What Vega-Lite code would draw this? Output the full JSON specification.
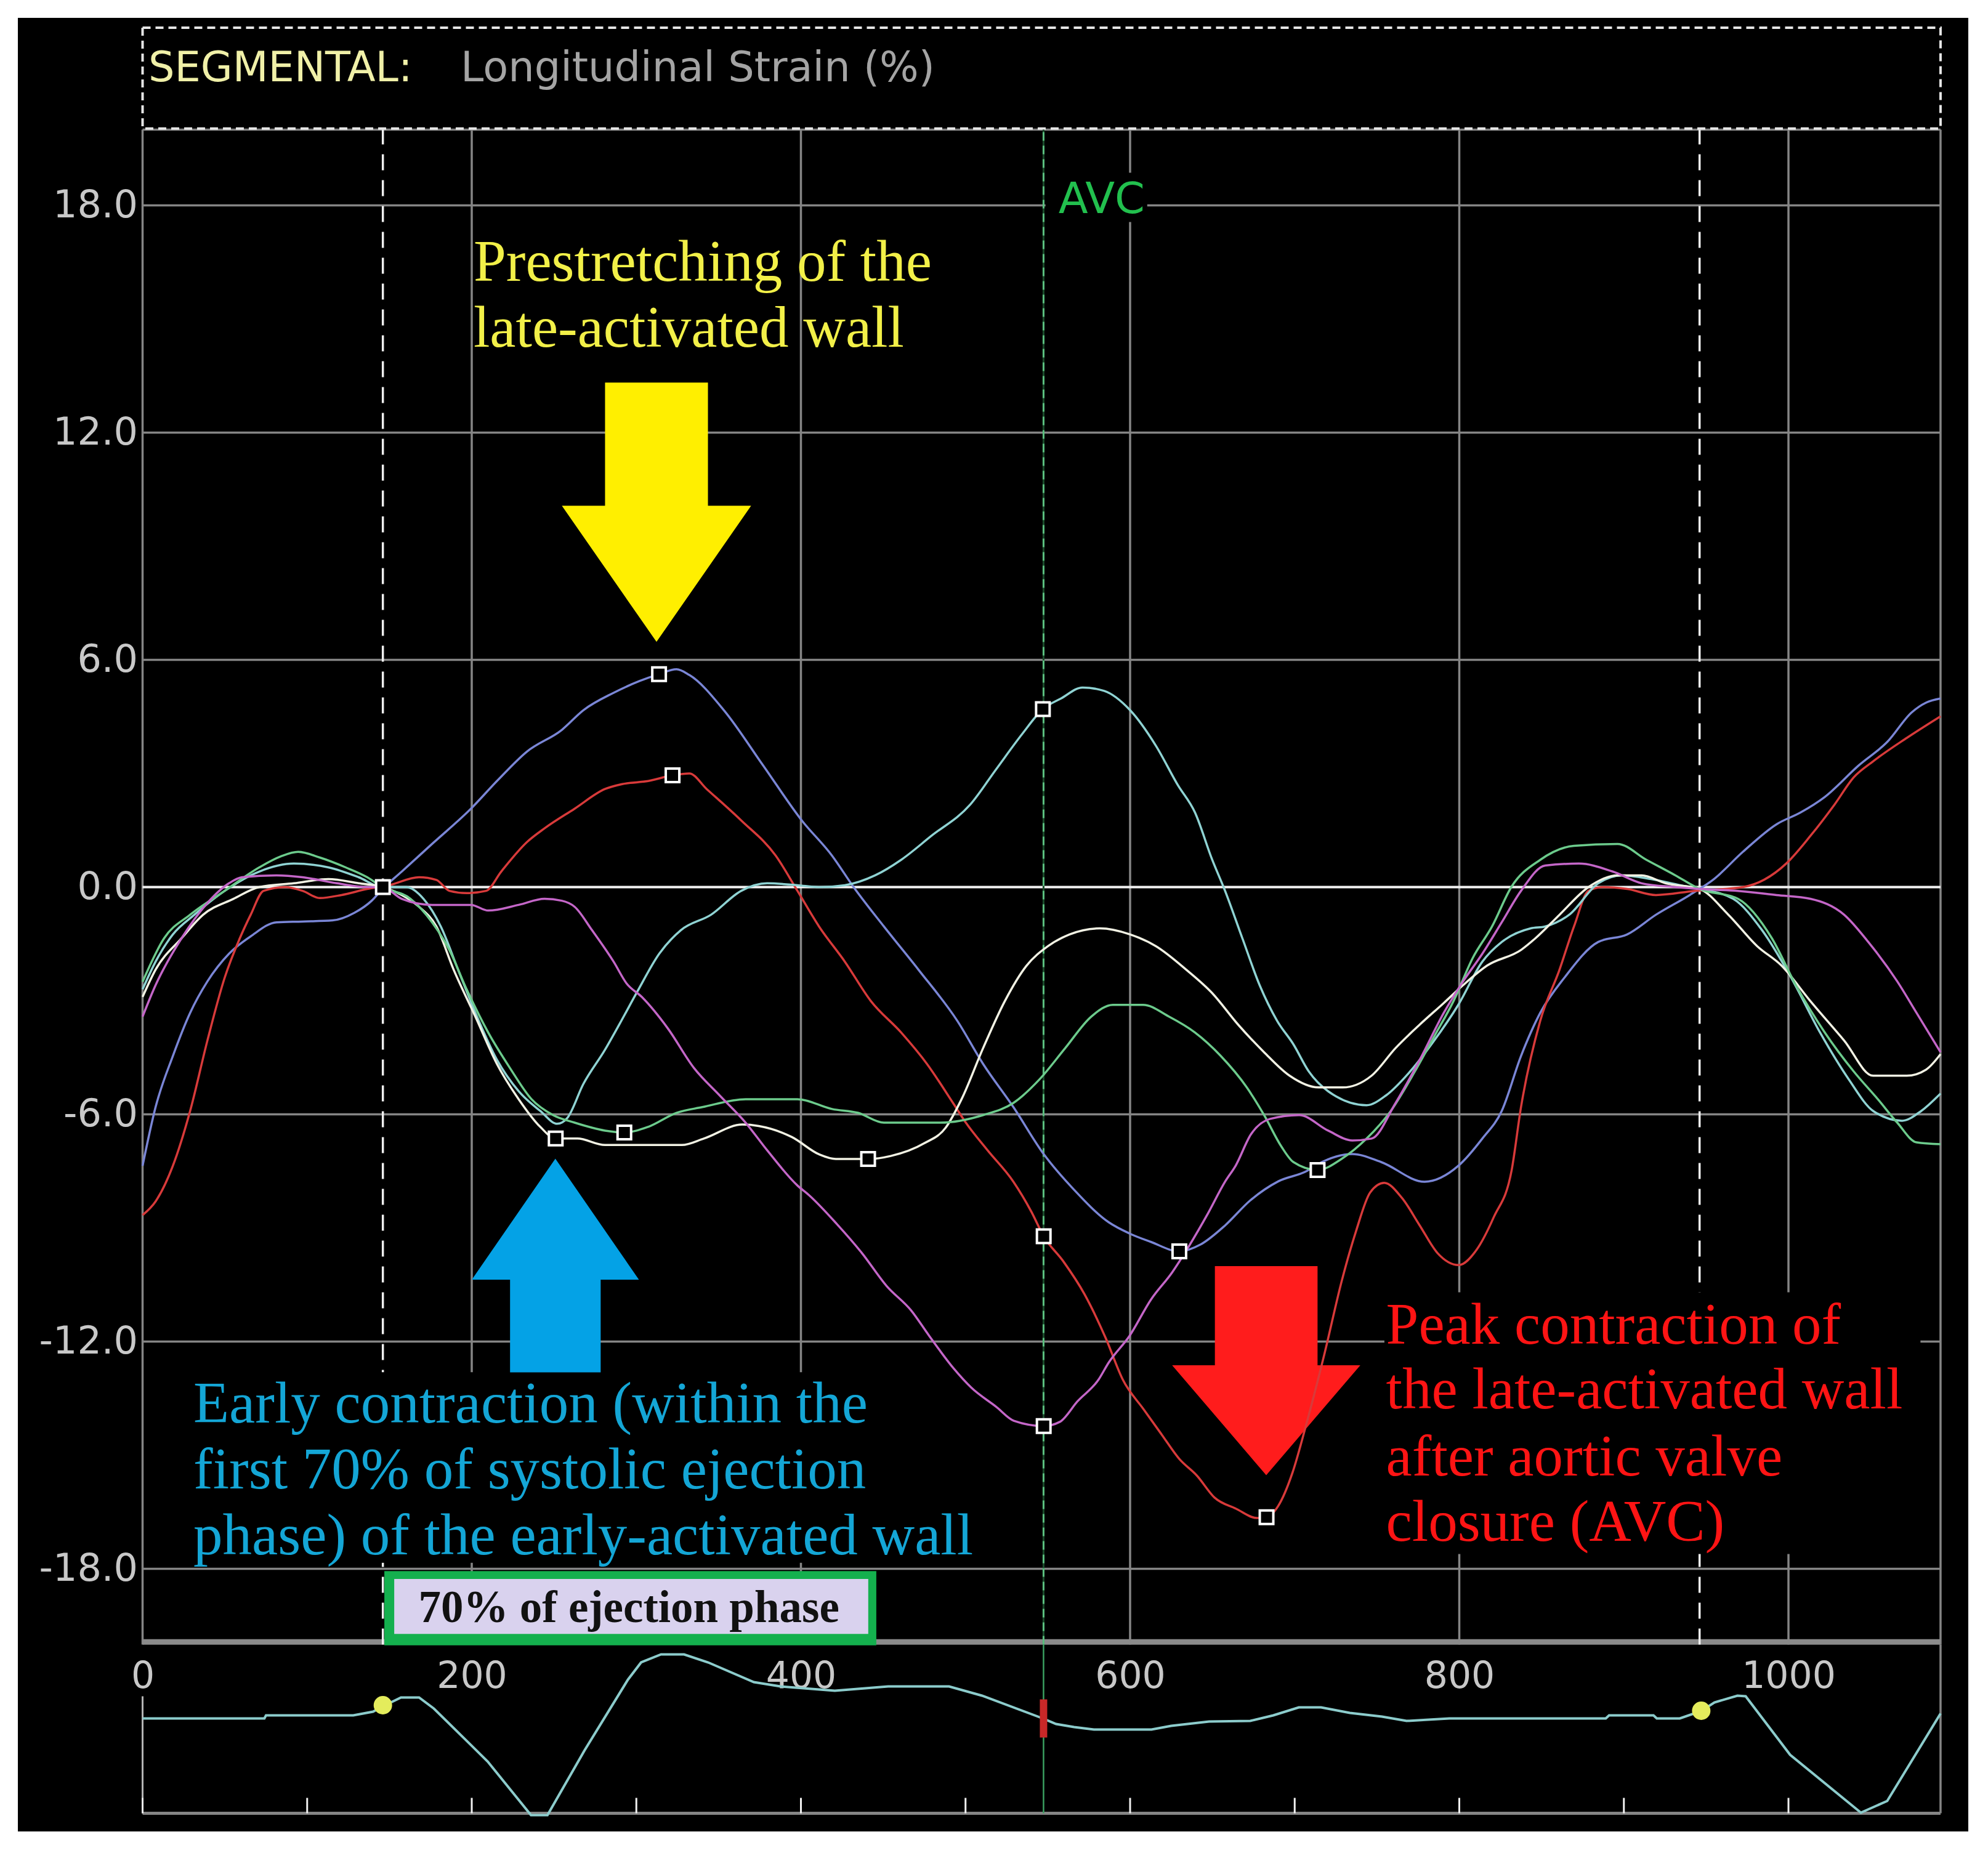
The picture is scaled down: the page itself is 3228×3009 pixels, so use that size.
{
"$schema": "https://vega.github.io/schema/vega-lite/v6.json",
"width": 3167, "height": 2945,
"autosize": {"type": "none"},
"padding": {"left": 29, "top": 29, "right": 32, "bottom": 35},
"background": "white",
"config": {"view": {"fill": "black", "stroke": null}, "axis": {"titleOpacity": 0}},
"datasets": {
"strain": [
{"seg":"Segment 1","t":0,"v":-7.36},{"seg":"Segment 1","t":7.9,"v":-5.81},{"seg":"Segment 1","t":18.4,"v":-4.46},{"seg":"Segment 1","t":28.9,"v":-3.32},{"seg":"Segment 1","t":39.4,"v":-2.49},{"seg":"Segment 1","t":52.5,"v":-1.76},{"seg":"Segment 1","t":65.7,"v":-1.3},{"seg":"Segment 1","t":81.4,"v":-0.93},{"seg":"Segment 1","t":97.2,"v":-0.91},{"seg":"Segment 1","t":115.5,"v":-0.88},{"seg":"Segment 1","t":128.7,"v":-0.68},{"seg":"Segment 1","t":139.2,"v":-0.36},{"seg":"Segment 1","t":145.7,"v":-0.05},{"seg":"Segment 1","t":157.5,"v":0.41},{"seg":"Segment 1","t":175.9,"v":1.14},{"seg":"Segment 1","t":199.5,"v":2.07},{"seg":"Segment 1","t":215.3,"v":2.8},{"seg":"Segment 1","t":233.6,"v":3.58},{"seg":"Segment 1","t":254.7,"v":4.15},{"seg":"Segment 1","t":267.8,"v":4.67},{"seg":"Segment 1","t":286.2,"v":5.13},{"seg":"Segment 1","t":301.9,"v":5.44},{"seg":"Segment 1","t":313.7,"v":5.62},{"seg":"Segment 1","t":324.4,"v":5.75},{"seg":"Segment 1","t":332.2,"v":5.6},{"seg":"Segment 1","t":353.2,"v":4.67},{"seg":"Segment 1","t":376.9,"v":3.22},{"seg":"Segment 1","t":400.5,"v":1.76},{"seg":"Segment 1","t":418.9,"v":0.83},{"seg":"Segment 1","t":432,"v":0.0},{"seg":"Segment 1","t":450.4,"v":-1.04},{"seg":"Segment 1","t":471.4,"v":-2.18},{"seg":"Segment 1","t":495,"v":-3.53},{"seg":"Segment 1","t":510.7,"v":-4.67},{"seg":"Segment 1","t":529.1,"v":-5.81},{"seg":"Segment 1","t":547.5,"v":-7.05},{"seg":"Segment 1","t":565.9,"v":-7.99},{"seg":"Segment 1","t":587,"v":-8.85},{"seg":"Segment 1","t":599.8,"v":-9.15},{"seg":"Segment 1","t":612.7,"v":-9.37},{"seg":"Segment 1","t":629.9,"v":-9.62},{"seg":"Segment 1","t":642.7,"v":-9.44},{"seg":"Segment 1","t":657.8,"v":-8.93},{"seg":"Segment 1","t":672.8,"v":-8.28},{"seg":"Segment 1","t":690,"v":-7.77},{"seg":"Segment 1","t":707.2,"v":-7.5},{"seg":"Segment 1","t":714.4,"v":-7.31},{"seg":"Segment 1","t":735,"v":-7.05},{"seg":"Segment 1","t":752.5,"v":-7.26},{"seg":"Segment 1","t":778.9,"v":-7.78},{"seg":"Segment 1","t":799.4,"v":-7.36},{"seg":"Segment 1","t":814,"v":-6.64},{"seg":"Segment 1","t":825.8,"v":-5.91},{"seg":"Segment 1","t":837.5,"v":-4.46},{"seg":"Segment 1","t":849.2,"v":-3.32},{"seg":"Segment 1","t":863.9,"v":-2.39},{"seg":"Segment 1","t":884.4,"v":-1.45},{"seg":"Segment 1","t":902,"v":-1.25},{"seg":"Segment 1","t":919.5,"v":-0.73},{"seg":"Segment 1","t":940,"v":-0.21},{"seg":"Segment 1","t":954.7,"v":0.21},{"seg":"Segment 1","t":972.3,"v":0.93},{"seg":"Segment 1","t":992.8,"v":1.66},{"seg":"Segment 1","t":1007.4,"v":1.97},{"seg":"Segment 1","t":1022.1,"v":2.38},{"seg":"Segment 1","t":1042.6,"v":3.21},{"seg":"Segment 1","t":1060.2,"v":3.84},{"seg":"Segment 1","t":1074.8,"v":4.61},{"seg":"Segment 1","t":1083.6,"v":4.87},{"seg":"Segment 1","t":1092.4,"v":4.98},
{"seg":"Segment 2","t":0,"v":-8.66},{"seg":"Segment 2","t":7.9,"v":-8.3},{"seg":"Segment 2","t":18.4,"v":-7.36},{"seg":"Segment 2","t":28.9,"v":-5.91},{"seg":"Segment 2","t":39.4,"v":-4.05},{"seg":"Segment 2","t":49.9,"v":-2.39},{"seg":"Segment 2","t":59.1,"v":-1.35},{"seg":"Segment 2","t":65.7,"v":-0.73},{"seg":"Segment 2","t":73.5,"v":-0.1},{"seg":"Segment 2","t":86.7,"v":0.0},{"seg":"Segment 2","t":97.2,"v":-0.1},{"seg":"Segment 2","t":107.7,"v":-0.29},{"seg":"Segment 2","t":120.8,"v":-0.21},{"seg":"Segment 2","t":136.5,"v":-0.05},{"seg":"Segment 2","t":149.7,"v":0.05},{"seg":"Segment 2","t":168,"v":0.26},{"seg":"Segment 2","t":178.5,"v":0.19},{"seg":"Segment 2","t":186.4,"v":-0.1},{"seg":"Segment 2","t":196.9,"v":-0.16},{"seg":"Segment 2","t":208.7,"v":-0.1},{"seg":"Segment 2","t":217.9,"v":0.41},{"seg":"Segment 2","t":233.6,"v":1.19},{"seg":"Segment 2","t":244.2,"v":1.55},{"seg":"Segment 2","t":262.5,"v":2.07},{"seg":"Segment 2","t":281,"v":2.59},{"seg":"Segment 2","t":291.4,"v":2.72},{"seg":"Segment 2","t":307.2,"v":2.8},{"seg":"Segment 2","t":322,"v":2.95},{"seg":"Segment 2","t":332.2,"v":3.0},{"seg":"Segment 2","t":342.7,"v":2.59},{"seg":"Segment 2","t":363.7,"v":1.76},{"seg":"Segment 2","t":384.7,"v":0.83},{"seg":"Segment 2","t":397.9,"v":-0.1},{"seg":"Segment 2","t":411,"v":-1.04},{"seg":"Segment 2","t":426.7,"v":-1.97},{"seg":"Segment 2","t":442.5,"v":-3.01},{"seg":"Segment 2","t":460.9,"v":-3.84},{"seg":"Segment 2","t":476.6,"v":-4.67},{"seg":"Segment 2","t":492.4,"v":-5.7},{"seg":"Segment 2","t":500.2,"v":-6.22},{"seg":"Segment 2","t":513.4,"v":-6.95},{"seg":"Segment 2","t":529.1,"v":-7.78},{"seg":"Segment 2","t":540,"v":-8.57},{"seg":"Segment 2","t":547.5,"v":-9.22},{"seg":"Segment 2","t":559.4,"v":-9.88},{"seg":"Segment 2","t":572.3,"v":-10.75},{"seg":"Segment 2","t":585.2,"v":-11.91},{"seg":"Segment 2","t":595.5,"v":-13.0},{"seg":"Segment 2","t":608.4,"v":-13.8},{"seg":"Segment 2","t":619.1,"v":-14.45},{"seg":"Segment 2","t":629.9,"v":-15.1},{"seg":"Segment 2","t":640.6,"v":-15.54},{"seg":"Segment 2","t":651.3,"v":-16.12},{"seg":"Segment 2","t":664.2,"v":-16.41},{"seg":"Segment 2","t":677.1,"v":-16.66},{"seg":"Segment 2","t":682.9,"v":-16.64},{"seg":"Segment 2","t":690,"v":-16.34},{"seg":"Segment 2","t":698.6,"v":-15.47},{"seg":"Segment 2","t":707.2,"v":-14.16},{"seg":"Segment 2","t":718,"v":-12.34},{"seg":"Segment 2","t":728.7,"v":-10.38},{"seg":"Segment 2","t":737.3,"v":-9.08},{"seg":"Segment 2","t":745.9,"v":-8.06},{"seg":"Segment 2","t":754.4,"v":-7.81},{"seg":"Segment 2","t":765.2,"v":-8.21},{"seg":"Segment 2","t":775.9,"v":-8.93},{"seg":"Segment 2","t":786.7,"v":-9.66},{"seg":"Segment 2","t":799.6,"v":-9.98},{"seg":"Segment 2","t":810.3,"v":-9.59},{"seg":"Segment 2","t":821,"v":-8.71},{"seg":"Segment 2","t":831.8,"v":-7.48},{"seg":"Segment 2","t":837.5,"v":-5.81},{"seg":"Segment 2","t":849.2,"v":-3.53},{"seg":"Segment 2","t":860.9,"v":-2.18},{"seg":"Segment 2","t":869.7,"v":-1.04},{"seg":"Segment 2","t":878.5,"v":-0.1},{"seg":"Segment 2","t":887.3,"v":0.0},{"seg":"Segment 2","t":902,"v":-0.05},{"seg":"Segment 2","t":919.5,"v":-0.21},{"seg":"Segment 2","t":943,"v":-0.1},{"seg":"Segment 2","t":972.3,"v":0.0},{"seg":"Segment 2","t":998.6,"v":0.62},{"seg":"Segment 2","t":1013.3,"v":1.35},{"seg":"Segment 2","t":1028,"v":2.18},{"seg":"Segment 2","t":1039.7,"v":2.9},{"seg":"Segment 2","t":1051.4,"v":3.32},{"seg":"Segment 2","t":1071.9,"v":3.94},{"seg":"Segment 2","t":1092.4,"v":4.51},
{"seg":"Segment 3","t":0,"v":-2.7},{"seg":"Segment 3","t":7.9,"v":-1.97},{"seg":"Segment 3","t":18.4,"v":-1.25},{"seg":"Segment 3","t":31.5,"v":-0.73},{"seg":"Segment 3","t":49.9,"v":-0.1},{"seg":"Segment 3","t":70.9,"v":0.41},{"seg":"Segment 3","t":91.9,"v":0.62},{"seg":"Segment 3","t":112.9,"v":0.52},{"seg":"Segment 3","t":131.3,"v":0.26},{"seg":"Segment 3","t":145.7,"v":0.0},{"seg":"Segment 3","t":160.2,"v":0.0},{"seg":"Segment 3","t":170.7,"v":-0.31},{"seg":"Segment 3","t":181.2,"v":-1.04},{"seg":"Segment 3","t":191.7,"v":-2.18},{"seg":"Segment 3","t":202.2,"v":-3.32},{"seg":"Segment 3","t":215.3,"v":-4.56},{"seg":"Segment 3","t":228.5,"v":-5.39},{"seg":"Segment 3","t":241.6,"v":-5.91},{"seg":"Segment 3","t":252,"v":-6.25},{"seg":"Segment 3","t":258,"v":-6.1},{"seg":"Segment 3","t":267.8,"v":-5.2},{"seg":"Segment 3","t":280.9,"v":-4.3},{"seg":"Segment 3","t":290,"v":-3.6},{"seg":"Segment 3","t":300.7,"v":-2.75},{"seg":"Segment 3","t":313.9,"v":-1.76},{"seg":"Segment 3","t":327,"v":-1.14},{"seg":"Segment 3","t":345.4,"v":-0.73},{"seg":"Segment 3","t":363.7,"v":-0.1},{"seg":"Segment 3","t":379.5,"v":0.1},{"seg":"Segment 3","t":397.9,"v":0.05},{"seg":"Segment 3","t":411,"v":0.0},{"seg":"Segment 3","t":426.7,"v":0.05},{"seg":"Segment 3","t":445.1,"v":0.31},{"seg":"Segment 3","t":460.9,"v":0.72},{"seg":"Segment 3","t":479.2,"v":1.35},{"seg":"Segment 3","t":502.9,"v":2.18},{"seg":"Segment 3","t":518.6,"v":3.11},{"seg":"Segment 3","t":534.4,"v":4.04},{"seg":"Segment 3","t":547,"v":4.7},{"seg":"Segment 3","t":558,"v":4.98},{"seg":"Segment 3","t":571.1,"v":5.27},{"seg":"Segment 3","t":584.2,"v":5.18},{"seg":"Segment 3","t":600,"v":4.67},{"seg":"Segment 3","t":615.7,"v":3.73},{"seg":"Segment 3","t":628.9,"v":2.7},{"seg":"Segment 3","t":639.4,"v":1.97},{"seg":"Segment 3","t":649.9,"v":0.72},{"seg":"Segment 3","t":657.7,"v":-0.1},{"seg":"Segment 3","t":668.2,"v":-1.35},{"seg":"Segment 3","t":678.7,"v":-2.59},{"seg":"Segment 3","t":689.3,"v":-3.53},{"seg":"Segment 3","t":699.2,"v":-4.15},{"seg":"Segment 3","t":708.6,"v":-4.87},{"seg":"Segment 3","t":720.3,"v":-5.39},{"seg":"Segment 3","t":743.7,"v":-5.76},{"seg":"Segment 3","t":755.5,"v":-5.5},{"seg":"Segment 3","t":770.1,"v":-4.87},{"seg":"Segment 3","t":784.8,"v":-4.05},{"seg":"Segment 3","t":799.4,"v":-3.11},{"seg":"Segment 3","t":814,"v":-1.97},{"seg":"Segment 3","t":825.8,"v":-1.45},{"seg":"Segment 3","t":843.4,"v":-1.09},{"seg":"Segment 3","t":852.2,"v":-1.04},{"seg":"Segment 3","t":866.8,"v":-0.73},{"seg":"Segment 3","t":884.4,"v":0.1},{"seg":"Segment 3","t":899,"v":0.31},{"seg":"Segment 3","t":916.6,"v":0.21},{"seg":"Segment 3","t":934.2,"v":0.05},{"seg":"Segment 3","t":946,"v":-0.05},{"seg":"Segment 3","t":966.4,"v":-0.31},{"seg":"Segment 3","t":984,"v":-1.14},{"seg":"Segment 3","t":1001.6,"v":-2.39},{"seg":"Segment 3","t":1019.2,"v":-3.84},{"seg":"Segment 3","t":1036.7,"v":-5.08},{"seg":"Segment 3","t":1051.4,"v":-5.91},{"seg":"Segment 3","t":1069,"v":-6.17},{"seg":"Segment 3","t":1080.7,"v":-5.91},{"seg":"Segment 3","t":1092.4,"v":-5.45},
{"seg":"Segment 4","t":0,"v":-2.9},{"seg":"Segment 4","t":7.9,"v":-2.18},{"seg":"Segment 4","t":23.7,"v":-1.35},{"seg":"Segment 4","t":36.8,"v":-0.73},{"seg":"Segment 4","t":55.2,"v":-0.31},{"seg":"Segment 4","t":70.9,"v":0.0},{"seg":"Segment 4","t":91.9,"v":0.1},{"seg":"Segment 4","t":112.9,"v":0.21},{"seg":"Segment 4","t":131.3,"v":0.1},{"seg":"Segment 4","t":145.7,"v":0.0},{"seg":"Segment 4","t":157.5,"v":-0.21},{"seg":"Segment 4","t":168,"v":-0.52},{"seg":"Segment 4","t":178.5,"v":-1.04},{"seg":"Segment 4","t":189,"v":-2.18},{"seg":"Segment 4","t":202.2,"v":-3.42},{"seg":"Segment 4","t":215.3,"v":-4.67},{"seg":"Segment 4","t":228.5,"v":-5.6},{"seg":"Segment 4","t":241.6,"v":-6.33},{"seg":"Segment 4","t":251,"v":-6.64},{"seg":"Segment 4","t":264.2,"v":-6.64},{"seg":"Segment 4","t":280.9,"v":-6.81},{"seg":"Segment 4","t":327.7,"v":-6.81},{"seg":"Segment 4","t":341,"v":-6.64},{"seg":"Segment 4","t":364.4,"v":-6.27},{"seg":"Segment 4","t":374.4,"v":-6.31},{"seg":"Segment 4","t":394.5,"v":-6.6},{"seg":"Segment 4","t":411.2,"v":-7.06},{"seg":"Segment 4","t":421.2,"v":-7.18},{"seg":"Segment 4","t":440.8,"v":-7.18},{"seg":"Segment 4","t":454.6,"v":-7.1},{"seg":"Segment 4","t":474.7,"v":-6.77},{"seg":"Segment 4","t":488,"v":-6.35},{"seg":"Segment 4","t":497.6,"v":-5.6},{"seg":"Segment 4","t":510.7,"v":-4.25},{"seg":"Segment 4","t":523.9,"v":-3.01},{"seg":"Segment 4","t":537,"v":-2.08},{"seg":"Segment 4","t":550.1,"v":-1.56},{"seg":"Segment 4","t":563.2,"v":-1.25},{"seg":"Segment 4","t":581.6,"v":-1.09},{"seg":"Segment 4","t":600,"v":-1.25},{"seg":"Segment 4","t":615.7,"v":-1.56},{"seg":"Segment 4","t":634.1,"v":-2.18},{"seg":"Segment 4","t":649.9,"v":-2.8},{"seg":"Segment 4","t":665.6,"v":-3.63},{"seg":"Segment 4","t":681.4,"v":-4.36},{"seg":"Segment 4","t":696.9,"v":-4.98},{"seg":"Segment 4","t":714.4,"v":-5.29},{"seg":"Segment 4","t":729.1,"v":-5.29},{"seg":"Segment 4","t":746.7,"v":-4.98},{"seg":"Segment 4","t":761.3,"v":-4.25},{"seg":"Segment 4","t":776,"v":-3.63},{"seg":"Segment 4","t":790.6,"v":-3.06},{"seg":"Segment 4","t":802.3,"v":-2.59},{"seg":"Segment 4","t":817,"v":-2.07},{"seg":"Segment 4","t":837.5,"v":-1.66},{"seg":"Segment 4","t":846.3,"v":-1.35},{"seg":"Segment 4","t":860.9,"v":-0.73},{"seg":"Segment 4","t":878.5,"v":0.0},{"seg":"Segment 4","t":896.1,"v":0.31},{"seg":"Segment 4","t":910.8,"v":0.31},{"seg":"Segment 4","t":925.4,"v":0.1},{"seg":"Segment 4","t":946,"v":-0.05},{"seg":"Segment 4","t":963.5,"v":-0.73},{"seg":"Segment 4","t":981,"v":-1.56},{"seg":"Segment 4","t":995.7,"v":-2.07},{"seg":"Segment 4","t":1013.3,"v":-3.01},{"seg":"Segment 4","t":1033.8,"v":-4.05},{"seg":"Segment 4","t":1051.4,"v":-4.98},{"seg":"Segment 4","t":1071.9,"v":-4.98},{"seg":"Segment 4","t":1083.6,"v":-4.82},{"seg":"Segment 4","t":1092.4,"v":-4.41},
{"seg":"Segment 5","t":0,"v":-2.5},{"seg":"Segment 5","t":13.1,"v":-1.35},{"seg":"Segment 5","t":28.9,"v":-0.73},{"seg":"Segment 5","t":49.9,"v":-0.1},{"seg":"Segment 5","t":70.9,"v":0.52},{"seg":"Segment 5","t":84,"v":0.81},{"seg":"Segment 5","t":94.5,"v":0.93},{"seg":"Segment 5","t":107.7,"v":0.78},{"seg":"Segment 5","t":123.4,"v":0.52},{"seg":"Segment 5","t":136.5,"v":0.26},{"seg":"Segment 5","t":145.7,"v":0.0},{"seg":"Segment 5","t":162.8,"v":-0.31},{"seg":"Segment 5","t":175.9,"v":-0.93},{"seg":"Segment 5","t":186.4,"v":-1.66},{"seg":"Segment 5","t":196.9,"v":-2.7},{"seg":"Segment 5","t":210,"v":-3.84},{"seg":"Segment 5","t":223.1,"v":-4.77},{"seg":"Segment 5","t":236.3,"v":-5.6},{"seg":"Segment 5","t":249.4,"v":-6.02},{"seg":"Segment 5","t":262.5,"v":-6.22},{"seg":"Segment 5","t":281,"v":-6.43},{"seg":"Segment 5","t":292.7,"v":-6.48},{"seg":"Segment 5","t":307.2,"v":-6.33},{"seg":"Segment 5","t":324.4,"v":-5.96},{"seg":"Segment 5","t":340.1,"v":-5.81},{"seg":"Segment 5","t":366.4,"v":-5.6},{"seg":"Segment 5","t":397.9,"v":-5.6},{"seg":"Segment 5","t":418.9,"v":-5.86},{"seg":"Segment 5","t":434.6,"v":-5.96},{"seg":"Segment 5","t":450.4,"v":-6.22},{"seg":"Segment 5","t":484.5,"v":-6.22},{"seg":"Segment 5","t":510.7,"v":-6.02},{"seg":"Segment 5","t":529.1,"v":-5.7},{"seg":"Segment 5","t":544.9,"v":-5.08},{"seg":"Segment 5","t":560.6,"v":-4.25},{"seg":"Segment 5","t":576.4,"v":-3.42},{"seg":"Segment 5","t":589.5,"v":-3.11},{"seg":"Segment 5","t":607.9,"v":-3.11},{"seg":"Segment 5","t":623.6,"v":-3.42},{"seg":"Segment 5","t":639.4,"v":-3.84},{"seg":"Segment 5","t":655.1,"v":-4.46},{"seg":"Segment 5","t":670.9,"v":-5.29},{"seg":"Segment 5","t":681.4,"v":-6.02},{"seg":"Segment 5","t":691.9,"v":-6.85},{"seg":"Segment 5","t":699.2,"v":-7.26},{"seg":"Segment 5","t":713.9,"v":-7.47},{"seg":"Segment 5","t":729.1,"v":-7.16},{"seg":"Segment 5","t":743.7,"v":-6.64},{"seg":"Segment 5","t":758.4,"v":-5.91},{"seg":"Segment 5","t":773,"v":-4.87},{"seg":"Segment 5","t":784.8,"v":-3.94},{"seg":"Segment 5","t":796.5,"v":-3.01},{"seg":"Segment 5","t":808.2,"v":-1.87},{"seg":"Segment 5","t":819.9,"v":-1.04},{"seg":"Segment 5","t":831.6,"v":0.0},{"seg":"Segment 5","t":849.2,"v":0.72},{"seg":"Segment 5","t":869.7,"v":1.09},{"seg":"Segment 5","t":896.1,"v":1.14},{"seg":"Segment 5","t":913.7,"v":0.72},{"seg":"Segment 5","t":931.3,"v":0.31},{"seg":"Segment 5","t":946,"v":-0.05},{"seg":"Segment 5","t":969.3,"v":-0.31},{"seg":"Segment 5","t":989.9,"v":-1.35},{"seg":"Segment 5","t":1004.5,"v":-2.59},{"seg":"Segment 5","t":1022.1,"v":-3.84},{"seg":"Segment 5","t":1039.7,"v":-4.87},{"seg":"Segment 5","t":1054.3,"v":-5.6},{"seg":"Segment 5","t":1066.1,"v":-6.22},{"seg":"Segment 5","t":1077.8,"v":-6.74},{"seg":"Segment 5","t":1092.4,"v":-6.79},
{"seg":"Segment 6","t":0,"v":-3.42},{"seg":"Segment 6","t":7.9,"v":-2.59},{"seg":"Segment 6","t":23.7,"v":-1.35},{"seg":"Segment 6","t":39.4,"v":-0.42},{"seg":"Segment 6","t":52.5,"v":0.1},{"seg":"Segment 6","t":60.4,"v":0.26},{"seg":"Segment 6","t":81.4,"v":0.31},{"seg":"Segment 6","t":97.2,"v":0.26},{"seg":"Segment 6","t":118.1,"v":0.1},{"seg":"Segment 6","t":136.5,"v":0.0},{"seg":"Segment 6","t":145.7,"v":0.0},{"seg":"Segment 6","t":157.5,"v":-0.31},{"seg":"Segment 6","t":175.9,"v":-0.47},{"seg":"Segment 6","t":199.5,"v":-0.47},{"seg":"Segment 6","t":210,"v":-0.62},{"seg":"Segment 6","t":228.5,"v":-0.47},{"seg":"Segment 6","t":244.2,"v":-0.31},{"seg":"Segment 6","t":254.7,"v":-0.36},{"seg":"Segment 6","t":262.5,"v":-0.52},{"seg":"Segment 6","t":273.1,"v":-1.14},{"seg":"Segment 6","t":286.2,"v":-1.97},{"seg":"Segment 6","t":294,"v":-2.54},{"seg":"Segment 6","t":303.3,"v":-2.9},{"seg":"Segment 6","t":319.1,"v":-3.73},{"seg":"Segment 6","t":334.9,"v":-4.77},{"seg":"Segment 6","t":350.6,"v":-5.5},{"seg":"Segment 6","t":366.4,"v":-6.22},{"seg":"Segment 6","t":379.5,"v":-6.95},{"seg":"Segment 6","t":397.9,"v":-7.88},{"seg":"Segment 6","t":404.8,"v":-8.13},{"seg":"Segment 6","t":421.9,"v":-8.9},{"seg":"Segment 6","t":437,"v":-9.66},{"seg":"Segment 6","t":452,"v":-10.53},{"seg":"Segment 6","t":467,"v":-11.18},{"seg":"Segment 6","t":477.8,"v":-11.84},{"seg":"Segment 6","t":492.8,"v":-12.71},{"seg":"Segment 6","t":503.6,"v":-13.22},{"seg":"Segment 6","t":518.6,"v":-13.72},{"seg":"Segment 6","t":529.3,"v":-14.09},{"seg":"Segment 6","t":547.6,"v":-14.23},{"seg":"Segment 6","t":557.3,"v":-14.12},{"seg":"Segment 6","t":568,"v":-13.58},{"seg":"Segment 6","t":580.9,"v":-13.0},{"seg":"Segment 6","t":586.9,"v":-12.56},{"seg":"Segment 6","t":599.8,"v":-11.84},{"seg":"Segment 6","t":612.7,"v":-10.89},{"seg":"Segment 6","t":625.6,"v":-10.17},{"seg":"Segment 6","t":636.3,"v":-9.44},{"seg":"Segment 6","t":647,"v":-8.64},{"seg":"Segment 6","t":657.8,"v":-7.77},{"seg":"Segment 6","t":664.2,"v":-7.35},{"seg":"Segment 6","t":673.4,"v":-6.53},{"seg":"Segment 6","t":685.1,"v":-6.12},{"seg":"Segment 6","t":702.7,"v":-6.02},{"seg":"Segment 6","t":720.3,"v":-6.43},{"seg":"Segment 6","t":735,"v":-6.69},{"seg":"Segment 6","t":746.7,"v":-6.64},{"seg":"Segment 6","t":761.3,"v":-5.7},{"seg":"Segment 6","t":776,"v":-4.56},{"seg":"Segment 6","t":790.6,"v":-3.32},{"seg":"Segment 6","t":802.3,"v":-2.49},{"seg":"Segment 6","t":814,"v":-1.76},{"seg":"Segment 6","t":825.8,"v":-0.93},{"seg":"Segment 6","t":837.5,"v":-0.1},{"seg":"Segment 6","t":852.2,"v":0.57},{"seg":"Segment 6","t":872.7,"v":0.62},{"seg":"Segment 6","t":893.2,"v":0.41},{"seg":"Segment 6","t":910.8,"v":0.1},{"seg":"Segment 6","t":931.3,"v":0.0},{"seg":"Segment 6","t":946,"v":-0.05},{"seg":"Segment 6","t":969.3,"v":-0.1},{"seg":"Segment 6","t":992.8,"v":-0.21},{"seg":"Segment 6","t":1013.3,"v":-0.31},{"seg":"Segment 6","t":1033.8,"v":-0.73},{"seg":"Segment 6","t":1048.5,"v":-1.45},{"seg":"Segment 6","t":1066.1,"v":-2.49},{"seg":"Segment 6","t":1077.8,"v":-3.32},{"seg":"Segment 6","t":1092.4,"v":-4.36}
],
"ecg": [
{"t":0,"e":0},{"t":74,"e":0},{"t":75,"e":0.05},{"t":128,"e":0.05},{"t":140,"e":0.11},{"t":147,"e":0.21},{"t":157,"e":0.34},{"t":168,"e":0.34},{"t":177,"e":0.16},{"t":209.7,"e":-0.7},{"t":236,"e":-1.57},{"t":246,"e":-1.57},{"t":268.5,"e":-0.52},{"t":294.9,"e":0.63},{"t":302.9,"e":0.91},{"t":315,"e":1.04},{"t":329,"e":1.04},{"t":343.6,"e":0.91},{"t":371.4,"e":0.59},{"t":387.6,"e":0.52},{"t":420.6,"e":0.45},{"t":453,"e":0.52},{"t":490,"e":0.52},{"t":510,"e":0.37},{"t":547,"e":0.0},{"t":555,"e":-0.09},{"t":566,"e":-0.14},{"t":578,"e":-0.18},{"t":613,"e":-0.18},{"t":625,"e":-0.12},{"t":648,"e":-0.05},{"t":673,"e":-0.04},{"t":687,"e":0.05},{"t":702.5,"e":0.18},{"t":716,"e":0.18},{"t":733.5,"e":0.09},{"t":753,"e":0.03},{"t":768,"e":-0.04},{"t":794,"e":0.0},{"t":889,"e":0.0},{"t":891,"e":0.05},{"t":918,"e":0.05},{"t":920,"e":0.0},{"t":934,"e":0.0},{"t":947,"e":0.12},{"t":955,"e":0.26},{"t":969,"e":0.37},{"t":974,"e":0.36},{"t":1001,"e":-0.59},{"t":1044,"e":-1.53},{"t":1060,"e":-1.34},{"t":1092.4,"e":0.08}
],
"markers": [
{"t":146,"v":0},{"t":313.8,"v":5.62},{"t":322,"v":2.95},{"t":547,"v":4.7},{"t":251,"v":-6.64},{"t":292.7,"v":-6.48},{"t":440.8,"v":-7.18},{"t":547.5,"v":-9.22},{"t":547.5,"v":-14.23},{"t":629.9,"v":-9.62},{"t":713.9,"v":-7.47},{"t":682.9,"v":-16.64}
],
"hgrid": [{"v":-18},{"v":-12},{"v":-6},{"v":6},{"v":12},{"v":18},{"v":20}],
"vgrid": [{"t":0},{"t":200},{"t":400},{"t":600},{"t":800},{"t":1000},{"t":1092.4}],
"events": [{"t":146},{"t":946}],
"ticks": [{"t":0},{"t":100},{"t":200},{"t":300},{"t":400},{"t":500},{"t":600},{"t":700},{"t":800},{"t":900},{"t":1000}],
"ecgMarks": [{"t":146,"e":0.215},{"t":947,"e":0.125}],
"boxes": [
{"name":"cyan","t1":25.6,"t2":456,"v1":-12.81,"v2":-17.84},
{"name":"red","t1":754.5,"t2":1080.2,"v1":-10.7,"v2":-17.61},
{"name":"avc","t1":548.6,"t2":610.4,"v1":18.86,"v2":17.56}
],
"phaseBox": [{"t1":146.9,"t2":445.8,"v1":-18.06,"v2":-20.02}],
"phaseInner": [{"t1":152.9,"t2":440.9,"v1":-18.27,"v2":-19.72}],
"arrows": [{"name":"prestretch","t":312.25,"v":9.897},{"name":"early","t":250.8,"v":-9.993},{"name":"peak","t":682.7,"v":-12.768}],
"notes": [
{"g":"header1","text":"SEGMENTAL:","t":3.55,"v":21.28},
{"g":"header2","text":"Longitudinal Strain (%)","t":193.3,"v":21.28},
{"g":"yellow","text":"Prestretching of the","t":201.1,"v":16.015},
{"g":"yellow","text":"late-activated wall","t":201.1,"v":14.272},
{"g":"cyan","text":"Early contraction (within the","t":30.9,"v":-14.138},
{"g":"cyan","text":"first 70% of systolic ejection","t":30.9,"v":-15.878},
{"g":"cyan","text":"phase) of the early-activated wall","t":30.9,"v":-17.626},
{"g":"red","text":"Peak contraction of","t":755.5,"v":-12.057},
{"g":"red","text":"the late-activated wall","t":755.5,"v":-13.772},
{"g":"red","text":"after aortic valve","t":755.5,"v":-15.543},
{"g":"red","text":"closure (AVC)","t":755.5,"v":-17.257},
{"g":"box","text":"70% of ejection phase","t":295.5,"v":-19.4},
{"g":"avc","text":"AVC","t":556.5,"v":17.8}
]
},
"resolve": {"scale": {"y": "independent"}},
"layer": [
{
"layer": [
{"data": {"name": "hgrid"}, "mark": {"type": "rule", "color": "#858585", "strokeWidth": 3.5},
 "encoding": {
  "y": {"field": "v", "type": "quantitative", "title": null, "scale": {"domain": [-24.935, 22.951], "nice": false, "zero": false},
   "axis": {"values": [-18, -12, -6, 0, 6, 12, 18], "labelExpr": "(datum.value < 0 ? '-' : '') + format(abs(datum.value), '.1f')", "offset": -202.5, "domain": false, "ticks": false, "tickSize": 0, "grid": false, "labelFont": "DejaVu Sans", "labelFontSize": 62, "labelColor": "#c8c8c8", "labelPadding": 8, "labelBaseline": "middle", "labelFlush": false, "labelOverlap": false, "title": null}},
  "x": {"datum": 0, "type": "quantitative", "scale": {"domain": [-75.77, 1109.26], "nice": false, "zero": false}},
  "x2": {"datum": 1092.4}}},
{"data": {"name": "vgrid"}, "mark": {"type": "rule", "color": "#858585", "strokeWidth": 3.5},
 "encoding": {
  "x": {"field": "t", "type": "quantitative", "title": null, "scale": {"domain": [-75.77, 1109.26], "nice": false, "zero": false},
   "axis": {"values": [0, 200, 400, 600, 800, 1000], "format": "d", "orient": "bottom", "offset": -281, "domain": false, "ticks": false, "tickSize": 0, "grid": false, "labelFont": "DejaVu Sans", "labelFontSize": 60, "labelColor": "#c8c8c8", "labelPadding": 0, "labelFlush": false, "labelOverlap": false, "title": null}},
  "y": {"datum": -20, "type": "quantitative", "scale": {"domain": [-24.935, 22.951], "nice": false, "zero": false}},
  "y2": {"datum": 20}}},
{"data": {"values": [{}]}, "mark": {"type": "rect", "filled": false, "color": "#e6e6e6", "strokeWidth": 4, "strokeDash": [13, 8]},
 "encoding": {
  "x": {"datum": 0, "type": "quantitative", "scale": {"domain": [-75.77, 1109.26], "nice": false, "zero": false}},
  "x2": {"datum": 1092.4},
  "y": {"datum": 22.69, "type": "quantitative", "scale": {"domain": [-24.935, 22.951], "nice": false, "zero": false}},
  "y2": {"datum": 20.03}}},
{"data": {"values": [{}]}, "mark": {"type": "rule", "color": "#f2f2f2", "strokeWidth": 4},
 "encoding": {
  "x": {"datum": 0, "type": "quantitative", "scale": {"domain": [-75.77, 1109.26], "nice": false, "zero": false}},
  "x2": {"datum": 1092.4},
  "y": {"datum": 0, "type": "quantitative", "scale": {"domain": [-24.935, 22.951], "nice": false, "zero": false}}}},
{"data": {"values": [{}]}, "mark": {"type": "rule", "color": "#8a8a8a", "strokeWidth": 9},
 "encoding": {
  "x": {"datum": 0, "type": "quantitative", "scale": {"domain": [-75.77, 1109.26], "nice": false, "zero": false}},
  "x2": {"datum": 1092.4},
  "y": {"datum": -19.93, "type": "quantitative", "scale": {"domain": [-24.935, 22.951], "nice": false, "zero": false}}}},
{"data": {"name": "events"}, "mark": {"type": "rule", "color": "#f0f0f0", "strokeWidth": 3.5, "strokeDash": [26, 16]},
 "encoding": {
  "x": {"field": "t", "type": "quantitative", "title": null, "scale": {"domain": [-75.77, 1109.26], "nice": false, "zero": false}},
  "y": {"datum": -20, "type": "quantitative", "scale": {"domain": [-24.935, 22.951], "nice": false, "zero": false}},
  "y2": {"datum": 20}}},
{"data": {"values": [{}]}, "mark": {"type": "rule", "color": "#1b4d2c", "strokeWidth": 3},
 "encoding": {
  "x": {"datum": 547.4, "type": "quantitative", "scale": {"domain": [-75.77, 1109.26], "nice": false, "zero": false}},
  "y": {"datum": -20, "type": "quantitative", "scale": {"domain": [-24.935, 22.951], "nice": false, "zero": false}},
  "y2": {"datum": 20}}},
{"data": {"values": [{}]}, "mark": {"type": "rule", "color": "#5cc080", "strokeWidth": 3, "strokeDash": [14, 8]},
 "encoding": {
  "x": {"datum": 547.4, "type": "quantitative", "scale": {"domain": [-75.77, 1109.26], "nice": false, "zero": false}},
  "y": {"datum": -20, "type": "quantitative", "scale": {"domain": [-24.935, 22.951], "nice": false, "zero": false}},
  "y2": {"datum": 20}}},
{"data": {"name": "boxes"}, "mark": {"type": "rect", "color": "black"},
 "encoding": {
  "x": {"field": "t1", "type": "quantitative", "title": null, "scale": {"domain": [-75.77, 1109.26], "nice": false, "zero": false}},
  "x2": {"field": "t2"},
  "y": {"field": "v1", "type": "quantitative", "title": null, "scale": {"domain": [-24.935, 22.951], "nice": false, "zero": false}},
  "y2": {"field": "v2"}}},
{"data": {"name": "phaseBox"}, "mark": {"type": "rect", "color": "#14b04e"},
 "encoding": {
  "x": {"field": "t1", "type": "quantitative", "title": null, "scale": {"domain": [-75.77, 1109.26], "nice": false, "zero": false}},
  "x2": {"field": "t2"},
  "y": {"field": "v1", "type": "quantitative", "title": null, "scale": {"domain": [-24.935, 22.951], "nice": false, "zero": false}},
  "y2": {"field": "v2"}}},
{"data": {"name": "phaseInner"}, "mark": {"type": "rect", "color": "#d9d2ee"},
 "encoding": {
  "x": {"field": "t1", "type": "quantitative", "title": null, "scale": {"domain": [-75.77, 1109.26], "nice": false, "zero": false}},
  "x2": {"field": "t2"},
  "y": {"field": "v1", "type": "quantitative", "title": null, "scale": {"domain": [-24.935, 22.951], "nice": false, "zero": false}},
  "y2": {"field": "v2"}}},
{"data": {"name": "arrows"}, "transform": [{"filter": "datum.name === 'prestretch'"}],
 "mark": {"type": "point", "filled": true, "opacity": 1, "color": "#ffef00", "strokeWidth": 0, "size": 177157, "shape": "M-0.397,-1L0.397,-1L0.397,-0.05L0.73,-0.05L0,1L-0.73,-0.05L-0.397,-0.05Z"},
 "encoding": {
  "x": {"field": "t", "type": "quantitative", "title": null, "scale": {"domain": [-75.77, 1109.26], "nice": false, "zero": false}},
  "y": {"field": "v", "type": "quantitative", "title": null, "scale": {"domain": [-24.935, 22.951], "nice": false, "zero": false}}}},
{"data": {"name": "arrows"}, "transform": [{"filter": "datum.name === 'early'"}],
 "mark": {"type": "point", "filled": true, "opacity": 1, "color": "#04a2e6", "strokeWidth": 0, "size": 120409, "shape": "M0,-1L0.782,0.132L0.424,0.132L0.424,1L-0.424,1L-0.424,0.132L-0.782,0.132Z"},
 "encoding": {
  "x": {"field": "t", "type": "quantitative", "title": null, "scale": {"domain": [-75.77, 1109.26], "nice": false, "zero": false}},
  "y": {"field": "v", "type": "quantitative", "title": null, "scale": {"domain": [-24.935, 22.951], "nice": false, "zero": false}}}},
{"data": {"name": "arrows"}, "transform": [{"filter": "datum.name === 'peak'"}],
 "mark": {"type": "point", "filled": true, "opacity": 1, "color": "#ff1c1c", "strokeWidth": 0, "size": 115260, "shape": "M-0.491,-1L0.491,-1L0.491,-0.052L0.9,-0.052L0,1L-0.9,-0.052L-0.491,-0.052Z"},
 "encoding": {
  "x": {"field": "t", "type": "quantitative", "title": null, "scale": {"domain": [-75.77, 1109.26], "nice": false, "zero": false}},
  "y": {"field": "v", "type": "quantitative", "title": null, "scale": {"domain": [-24.935, 22.951], "nice": false, "zero": false}}}},
{"data": {"name": "strain"}, "mark": {"type": "line", "strokeWidth": 3.5, "interpolate": "monotone"},
 "encoding": {
  "x": {"field": "t", "type": "quantitative", "title": null, "scale": {"domain": [-75.77, 1109.26], "nice": false, "zero": false}},
  "y": {"field": "v", "type": "quantitative", "title": null, "scale": {"domain": [-24.935, 22.951], "nice": false, "zero": false}},
  "color": {"field": "seg", "type": "nominal", "legend": null, "scale": {"domain": ["Segment 1", "Segment 2", "Segment 3", "Segment 4", "Segment 5", "Segment 6"], "range": ["#7a86d6", "#d83a3a", "#8fd3d3", "#f2f2e4", "#6ccb8c", "#c466c8"]}}}},
{"data": {"name": "markers"}, "mark": {"type": "point", "shape": "square", "filled": true, "opacity": 1, "fill": "black", "stroke": "white", "strokeWidth": 4, "size": 484},
 "encoding": {
  "x": {"field": "t", "type": "quantitative", "title": null, "scale": {"domain": [-75.77, 1109.26], "nice": false, "zero": false}},
  "y": {"field": "v", "type": "quantitative", "title": null, "scale": {"domain": [-24.935, 22.951], "nice": false, "zero": false}}}},
{"data": {"name": "notes"}, "transform": [{"filter": "datum.g === 'header1'"}],
 "mark": {"type": "text", "align": "left", "baseline": "alphabetic", "font": "DejaVu Sans", "fontSize": 67, "color": "#f0f0a8"},
 "encoding": {
  "x": {"field": "t", "type": "quantitative", "title": null, "scale": {"domain": [-75.77, 1109.26], "nice": false, "zero": false}},
  "y": {"field": "v", "type": "quantitative", "title": null, "scale": {"domain": [-24.935, 22.951], "nice": false, "zero": false}},
  "text": {"field": "text"}}},
{"data": {"name": "notes"}, "transform": [{"filter": "datum.g === 'header2'"}],
 "mark": {"type": "text", "align": "left", "baseline": "alphabetic", "font": "DejaVu Sans", "fontSize": 67, "color": "#a4a4a4"},
 "encoding": {
  "x": {"field": "t", "type": "quantitative", "title": null, "scale": {"domain": [-75.77, 1109.26], "nice": false, "zero": false}},
  "y": {"field": "v", "type": "quantitative", "title": null, "scale": {"domain": [-24.935, 22.951], "nice": false, "zero": false}},
  "text": {"field": "text"}}},
{"data": {"name": "notes"}, "transform": [{"filter": "datum.g === 'yellow'"}],
 "mark": {"type": "text", "align": "left", "baseline": "alphabetic", "font": "Liberation Serif", "fontSize": 95, "color": "#f2f048"},
 "encoding": {
  "x": {"field": "t", "type": "quantitative", "title": null, "scale": {"domain": [-75.77, 1109.26], "nice": false, "zero": false}},
  "y": {"field": "v", "type": "quantitative", "title": null, "scale": {"domain": [-24.935, 22.951], "nice": false, "zero": false}},
  "text": {"field": "text"}}},
{"data": {"name": "notes"}, "transform": [{"filter": "datum.g === 'cyan'"}],
 "mark": {"type": "text", "align": "left", "baseline": "alphabetic", "font": "Liberation Serif", "fontSize": 95, "color": "#14a6d6"},
 "encoding": {
  "x": {"field": "t", "type": "quantitative", "title": null, "scale": {"domain": [-75.77, 1109.26], "nice": false, "zero": false}},
  "y": {"field": "v", "type": "quantitative", "title": null, "scale": {"domain": [-24.935, 22.951], "nice": false, "zero": false}},
  "text": {"field": "text"}}},
{"data": {"name": "notes"}, "transform": [{"filter": "datum.g === 'red'"}],
 "mark": {"type": "text", "align": "left", "baseline": "alphabetic", "font": "Liberation Serif", "fontSize": 95, "color": "#ff1414"},
 "encoding": {
  "x": {"field": "t", "type": "quantitative", "title": null, "scale": {"domain": [-75.77, 1109.26], "nice": false, "zero": false}},
  "y": {"field": "v", "type": "quantitative", "title": null, "scale": {"domain": [-24.935, 22.951], "nice": false, "zero": false}},
  "text": {"field": "text"}}},
{"data": {"name": "notes"}, "transform": [{"filter": "datum.g === 'box'"}],
 "mark": {"type": "text", "align": "center", "baseline": "alphabetic", "font": "Liberation Serif", "fontWeight": "bold", "fontSize": 73, "color": "#111111"},
 "encoding": {
  "x": {"field": "t", "type": "quantitative", "title": null, "scale": {"domain": [-75.77, 1109.26], "nice": false, "zero": false}},
  "y": {"field": "v", "type": "quantitative", "title": null, "scale": {"domain": [-24.935, 22.951], "nice": false, "zero": false}},
  "text": {"field": "text"}}},
{"data": {"name": "notes"}, "transform": [{"filter": "datum.g === 'avc'"}],
 "mark": {"type": "text", "align": "left", "baseline": "alphabetic", "font": "DejaVu Sans", "fontSize": 70, "color": "#22c04e"},
 "encoding": {
  "x": {"field": "t", "type": "quantitative", "title": null, "scale": {"domain": [-75.77, 1109.26], "nice": false, "zero": false}},
  "y": {"field": "v", "type": "quantitative", "title": null, "scale": {"domain": [-24.935, 22.951], "nice": false, "zero": false}},
  "text": {"field": "text"}}}
]
},
{
"layer": [
{"data": {"values": [{}]}, "mark": {"type": "rule", "color": "#858585", "strokeWidth": 5},
 "encoding": {
  "x": {"datum": 0, "type": "quantitative", "scale": {"domain": [-75.77, 1109.26], "nice": false, "zero": false}},
  "x2": {"datum": 1092.4},
  "y": {"datum": -1.54, "type": "quantitative", "axis": null, "scale": {"domain": [-1.835, 27.615], "nice": false, "zero": false}}}},
{"data": {"values": [{}]}, "mark": {"type": "rule", "color": "#b4b4b4", "strokeWidth": 3},
 "encoding": {
  "x": {"datum": 0, "type": "quantitative", "scale": {"domain": [-75.77, 1109.26], "nice": false, "zero": false}},
  "y": {"datum": -1.54, "type": "quantitative", "axis": null, "scale": {"domain": [-1.835, 27.615], "nice": false, "zero": false}},
  "y2": {"datum": 0.36}}},
{"data": {"values": [{}]}, "mark": {"type": "rule", "color": "#858585", "strokeWidth": 3.5},
 "encoding": {
  "x": {"datum": 1092.4, "type": "quantitative", "scale": {"domain": [-75.77, 1109.26], "nice": false, "zero": false}},
  "y": {"datum": -1.54, "type": "quantitative", "axis": null, "scale": {"domain": [-1.835, 27.615], "nice": false, "zero": false}},
  "y2": {"datum": 1.2}}},
{"data": {"name": "ticks"}, "mark": {"type": "rule", "color": "#f0f0f0", "strokeWidth": 3},
 "encoding": {
  "x": {"field": "t", "type": "quantitative", "title": null, "scale": {"domain": [-75.77, 1109.26], "nice": false, "zero": false}},
  "y": {"datum": -1.54, "type": "quantitative", "axis": null, "scale": {"domain": [-1.835, 27.615], "nice": false, "zero": false}},
  "y2": {"datum": -1.29}}},
{"data": {"values": [{}]}, "mark": {"type": "rule", "color": "#3aa060", "strokeWidth": 2.5},
 "encoding": {
  "x": {"datum": 547.4, "type": "quantitative", "scale": {"domain": [-75.77, 1109.26], "nice": false, "zero": false}},
  "y": {"datum": -1.54, "type": "quantitative", "axis": null, "scale": {"domain": [-1.835, 27.615], "nice": false, "zero": false}},
  "y2": {"datum": 1.2}}},
{"data": {"name": "ecg"}, "mark": {"type": "line", "color": "#8ccccc", "strokeWidth": 4},
 "encoding": {
  "x": {"field": "t", "type": "quantitative", "title": null, "scale": {"domain": [-75.77, 1109.26], "nice": false, "zero": false}},
  "y": {"field": "e", "type": "quantitative", "title": null, "axis": null, "scale": {"domain": [-1.835, 27.615], "nice": false, "zero": false}}}},
{"data": {"values": [{}]}, "mark": {"type": "rule", "color": "#c82828", "strokeWidth": 12},
 "encoding": {
  "x": {"datum": 547.4, "type": "quantitative", "scale": {"domain": [-75.77, 1109.26], "nice": false, "zero": false}},
  "y": {"datum": -0.31, "type": "quantitative", "axis": null, "scale": {"domain": [-1.835, 27.615], "nice": false, "zero": false}},
  "y2": {"datum": 0.31}}},
{"data": {"name": "ecgMarks"}, "mark": {"type": "point", "shape": "circle", "filled": true, "opacity": 1, "color": "#e4ec5c", "size": 900},
 "encoding": {
  "x": {"field": "t", "type": "quantitative", "title": null, "scale": {"domain": [-75.77, 1109.26], "nice": false, "zero": false}},
  "y": {"field": "e", "type": "quantitative", "title": null, "axis": null, "scale": {"domain": [-1.835, 27.615], "nice": false, "zero": false}}}}
]
}
]
}
